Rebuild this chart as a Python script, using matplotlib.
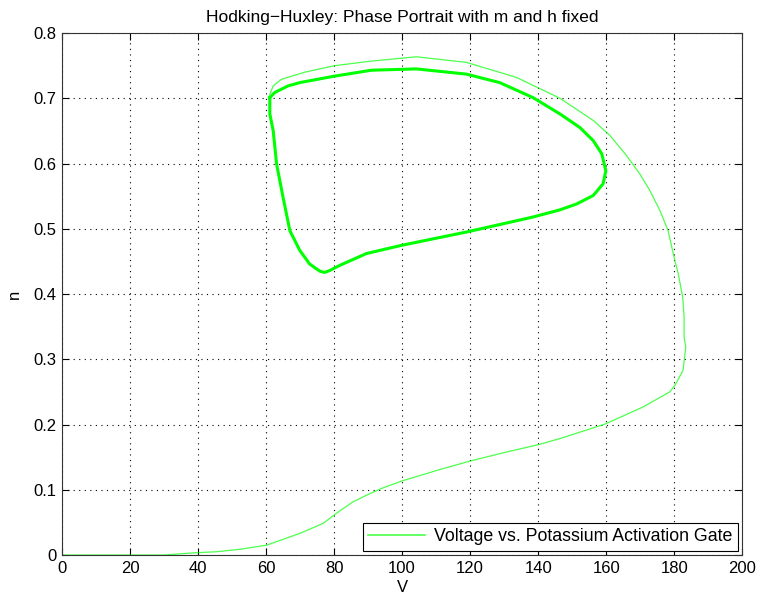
import matplotlib
matplotlib.use("Agg")
import matplotlib.pyplot as plt

plt.rcParams['font.family'] = ['Liberation Sans', 'DejaVu Sans']

# Transient trajectory from rest until it joins the limit cycle
V_transient = [0, 10, 20, 30, 32.6, 39.5, 45.4, 52.3, 60.1, 69.9, 76.8, 80.7, 85.6,
               90.5, 94.4, 100.3, 111.1, 120, 130, 140, 146.4, 159.6, 170.9, 178.7,
               180.2, 182.6, 183.4, 182.9, 182.9, 182.5, 181.2, 180.2, 178.2, 175.8,
               172.8, 169.9, 166.0, 161.1, 156.2, 146.4, 133.6, 118.9, 104.2, 91.0,
               80.2, 71.4, 64.5, 62.1, 61.1, 61.1]
n_transient = [0, 0, 0, 0, 0.001, 0.0035, 0.005, 0.0087, 0.015, 0.033, 0.0485, 0.064,
               0.0816, 0.094, 0.103, 0.114, 0.131, 0.144, 0.157, 0.169, 0.1785, 0.2005,
               0.227, 0.250, 0.260, 0.283, 0.319, 0.334, 0.365, 0.395, 0.431, 0.451,
               0.497, 0.528, 0.559, 0.584, 0.612, 0.643, 0.666, 0.700, 0.732, 0.755,
               0.7636, 0.757, 0.750, 0.740, 0.729, 0.719, 0.706, 0.690]

# Limit cycle, traversed repeatedly
V_cycle = [61.1, 61.1, 62.1, 63.1, 65.0, 67.0, 69.9, 72.8, 75.8, 77.2, 78.7, 81.7,
           89.5, 99.3, 118.9, 138.5, 146.4, 151.3, 156.2, 159.1, 159.9, 158.7, 156.2,
           152.3, 146.4, 138.5, 128.7, 118.9, 104.2, 91.0, 80.2, 69.9, 66.5, 62.6, 61.1]
n_cycle = [0.701, 0.676, 0.650, 0.599, 0.548, 0.497, 0.467, 0.446, 0.435, 0.433,
           0.436, 0.444, 0.462, 0.474, 0.495, 0.518, 0.529, 0.538, 0.551, 0.569,
           0.589, 0.615, 0.635, 0.655, 0.676, 0.701, 0.724, 0.737, 0.745, 0.743,
           0.734, 0.724, 0.719, 0.709, 0.701]

x_ticks = [0, 20, 40, 60, 80, 100, 120, 140, 160, 180, 200]
y_ticks = [0, 0.1, 0.2, 0.3, 0.4, 0.5, 0.6, 0.7, 0.8]
y_tick_labels = ['0', '0.1', '0.2', '0.3', '0.4', '0.5', '0.6', '0.7', '0.8']

fig = plt.figure(figsize=(7.59, 5.96), dpi=100)
ax = fig.add_axes([0.0817, 0.0688, 0.8962, 0.8758])

green = '#00ff00'
ax.plot(V_transient, n_transient, color=green, lw=0.9, alpha=0.7,
        solid_joinstyle='round', label='Voltage vs. Potassium Activation Gate')
ax.plot(V_cycle, n_cycle, color=green, lw=2.2, solid_joinstyle='round')

ax.set_xlim(0, 200)
ax.set_ylim(0, 0.8)
ax.set_xticks(x_ticks)
ax.set_yticks(y_ticks)
ax.set_yticklabels(y_tick_labels)
ax.tick_params(direction='in', top=True, right=True, length=5, width=0.8,
               labelsize=12, colors='black', pad=4)
ax.grid(True, color='black', linestyle=(0, (1, 4)), linewidth=0.8)
for s in ax.spines.values():
    s.set_linewidth(0.8)
    s.set_color('#333333')

ax.set_title('Hodking\u2212Huxley: Phase Portrait with m and h fixed', fontsize=12.5, pad=8)
ax.set_xlabel('V', fontsize=12, labelpad=3)
ax.set_ylabel('n', fontsize=12, labelpad=8)

leg = ax.legend(loc='lower right', fontsize=12.8, fancybox=False, framealpha=1,
                edgecolor='black', borderaxespad=0.25, handlelength=3.2,
                handletextpad=0.5, borderpad=0.3)
leg.get_frame().set_linewidth(0.8)
for line in leg.get_lines():
    line.set_alpha(0.7)
    line.set_linewidth(1.2)

fig.savefig('out.png', dpi=100)
